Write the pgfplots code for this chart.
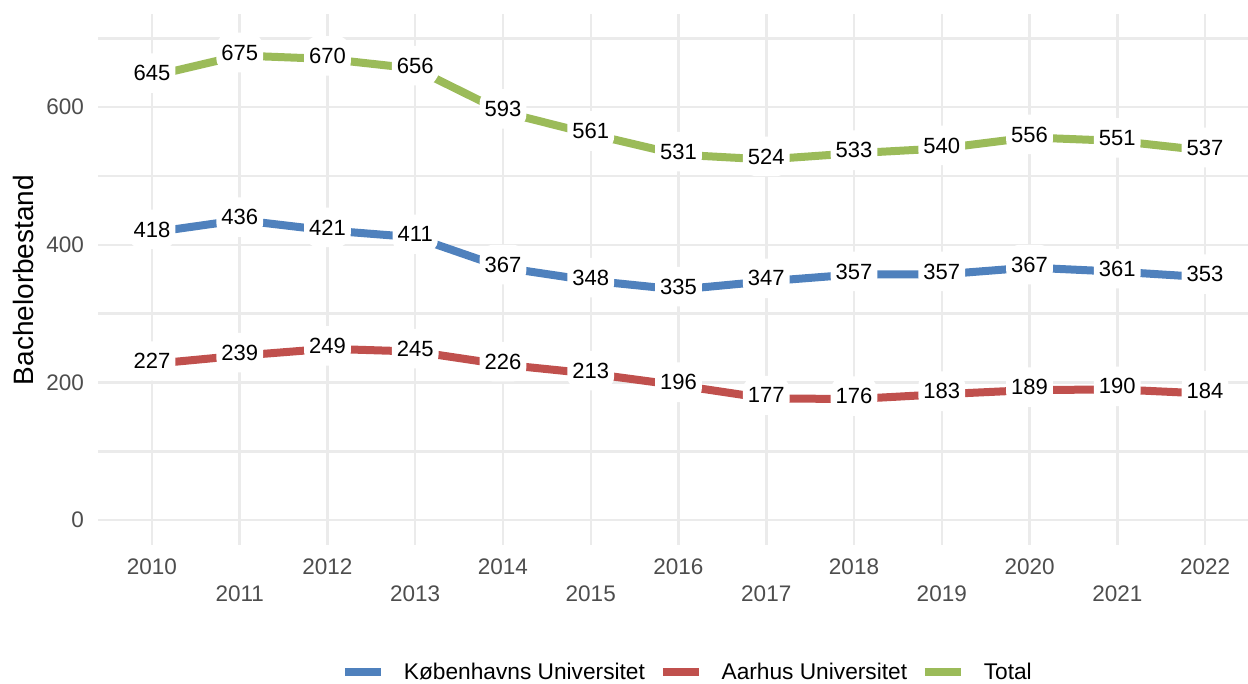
\documentclass[border=0pt]{standalone}
\usepackage{fontspec}
\setmainfont{Liberation Sans}
\usepackage{pgfplots}
\usepackage{pgfplotstable}
\pgfplotsset{compat=1.18}
\definecolor{ku}{HTML}{4F81BD}
\definecolor{au}{HTML}{C0504D}
\definecolor{tot}{HTML}{9BBB59}
\definecolor{gridc}{HTML}{EBEBEB}
\definecolor{tickc}{HTML}{4D4D4D}

\pgfplotstableread{
year ku au tot
2010 418 227 645
2011 436 239 675
2012 421 249 670
2013 411 245 656
2014 367 226 593
2015 348 213 561
2016 335 196 531
2017 347 177 524
2018 357 176 533
2019 357 183 540
2020 367 189 556
2021 361 190 551
2022 353 184 537
}\data

\begin{document}
\begin{tikzpicture}
\path[use as bounding box] (0,0) rectangle (1248pt,-683pt);
\begin{axis}[
  at={(98pt,-545pt)}, anchor=south west,
  scale only axis, width=1161pt, height=531.5pt,
  xmin=2009.385, xmax=2022.615, ymin=-36, ymax=736,
  axis line style={draw=none},
  major tick length=0pt, minor tick length=0pt,
  /pgf/number format/1000 sep={},
  /pgf/number format/assume math mode=true,
  xtick={2010,2012,...,2022},
  extra x ticks={2011,2013,...,2021},
  extra x tick style={grid=major, xticklabel style={yshift=-27pt}},
  ytick={0,200,400,600},
  minor ytick={100,300,500,700},
  xmajorgrids, ymajorgrids, yminorgrids,
  grid style={gridc, line width=2.5pt},
  minor grid style={gridc, line width=2.5pt},
  xticklabel style={inner sep=0pt, anchor=north, yshift=-14pt, font=\fontsize{22.5}{27}\selectfont, text=tickc},
  yticklabel style={inner sep=0pt, anchor=east, xshift=-14pt, font=\fontsize{22.5}{27}\selectfont, text=tickc},
  legend style={at={(0.5069,-0.2387)}, anchor=center, draw=none, fill=none,
    font=\fontsize{22.7}{27}\selectfont, inner sep=0pt, nodes={inner sep=0pt},
    /tikz/every even column/.append style={column sep=14pt},
    /tikz/every odd column/.append style={column sep=19pt}},
  legend columns=3,
  legend cell align=left,
  legend image code/.code={\draw[#1,line width=7.7pt] (0pt,0pt) -- (36pt,0pt);},
  every node near coord/.append style={anchor=center, yshift=3pt, fill=white, text=black,
    rounded corners=14pt, inner xsep=5pt, inner ysep=12pt,
    font=\fontsize{22}{26}\selectfont},
  clip=false,
]
\addplot[ku, line width=8pt] table[x=year,y=ku]{\data};
\addlegendentry{Københavns Universitet}
\addplot[au, line width=8pt] table[x=year,y=au]{\data};
\addlegendentry{Aarhus Universitet}
\addplot[tot, line width=8pt] table[x=year,y=tot]{\data};
\addlegendentry{Total}
\addplot[draw=none, forget plot, nodes near coords] table[x=year,y=ku]{\data};
\addplot[draw=none, forget plot, nodes near coords] table[x=year,y=au]{\data};
\addplot[draw=none, forget plot, nodes near coords] table[x=year,y=tot]{\data};
\end{axis}
\node[rotate=90, font=\fontsize{28}{33}\selectfont] at (23pt,-280pt) {Bachelorbestand};
\end{tikzpicture}
\end{document}
